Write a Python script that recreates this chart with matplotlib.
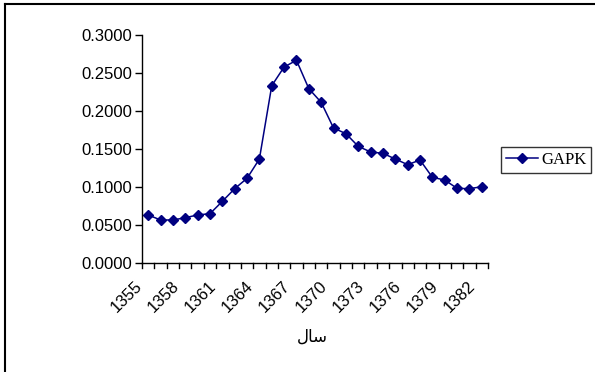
import matplotlib
matplotlib.use('Agg')
import matplotlib.pyplot as plt
from matplotlib.lines import Line2D

# years (solar hijri) and GAPK values
years = list(range(1355, 1383))
gapk = [0.0632, 0.0566, 0.0566, 0.0596, 0.0632, 0.0649, 0.0811, 0.0978,
        0.1114, 0.1368, 0.2333, 0.2579, 0.2667, 0.2294, 0.2114, 0.1776,
        0.1702, 0.1535, 0.1461, 0.1443, 0.1368, 0.1294, 0.1355, 0.1127,
        0.1092, 0.0982, 0.0978, 0.1004]
yticks = [0.0, 0.05, 0.10, 0.15, 0.20, 0.25, 0.30]
xlabel = '\uFEDD\uFE8E\uFEB3'  # "سال" in shaped presentation forms

W, H = 595, 372
fs = 12
fig = plt.figure(figsize=(W / 100, H / 100), dpi=100, facecolor='white')
ax = fig.add_axes([142 / W, 1 - 263 / H, (488 - 142) / W, (263 - 35) / H])

n = len(years)
xs = list(range(n))
ax.plot(xs, gapk, color='#000080', lw=1.1, marker='D', ms=5.5,
        mfc='#000080', mec='#000080', label='GAPK')

ax.set_yticks(yticks)
ax.set_yticklabels(['%.4f' % v for v in yticks], family='Liberation Sans', fontsize=fs)
ax.tick_params(axis='y', direction='out', length=5, width=1, pad=2)

# ticks between categories, labels every third year (Excel style)
ax.set_xticks([i - 0.5 for i in range(n + 1)])
ax.set_xticklabels([])
ax.tick_params(axis='x', which='major', length=0)
for i in range(n + 1):
    ax.plot([i - 0.5, i - 0.5], [0, -0.007], color='black', lw=1, clip_on=False)
for x, yr in zip(xs[::3], years[::3]):
    ax.annotate(str(yr), xy=(x, 0), xycoords=('data', 'axes fraction'),
                xytext=(-14, -15), textcoords='offset pixels', rotation=45,
                ha='right', va='top', rotation_mode='anchor',
                family='Liberation Sans', fontsize=fs, annotation_clip=False)

ax.set_xlim(-0.5, n - 0.5)
ax.set_ylim(0, 0.3)

for s in ['top', 'right']:
    ax.spines[s].set_visible(False)
for s in ['left', 'bottom']:
    ax.spines[s].set_linewidth(1)

fig.text(312 / W, 1 - 337 / H, xlabel, family='DejaVu Sans', fontsize=fs,
         ha='center', va='center')

leg = ax.legend(loc='center left', bbox_to_anchor=(501 / W, 1 - 160 / H),
                bbox_transform=fig.transFigure, frameon=True, fancybox=False,
                prop={'family': 'Liberation Serif', 'size': fs},
                handlelength=1.9, borderpad=0.3, handletextpad=0.2,
                borderaxespad=0)
leg.get_frame().set_edgecolor('black')
leg.get_frame().set_linewidth(1)

# chart area border (left and top visible)
fig.add_artist(Line2D([5 / W, 5 / W], [0, 1 - 4 / H], color='black', lw=1.5,
                      transform=fig.transFigure))
fig.add_artist(Line2D([5 / W, 1], [1 - 4 / H, 1 - 4 / H], color='black', lw=1.5,
                      transform=fig.transFigure))

fig.savefig('out.png', dpi=100, facecolor='white')
